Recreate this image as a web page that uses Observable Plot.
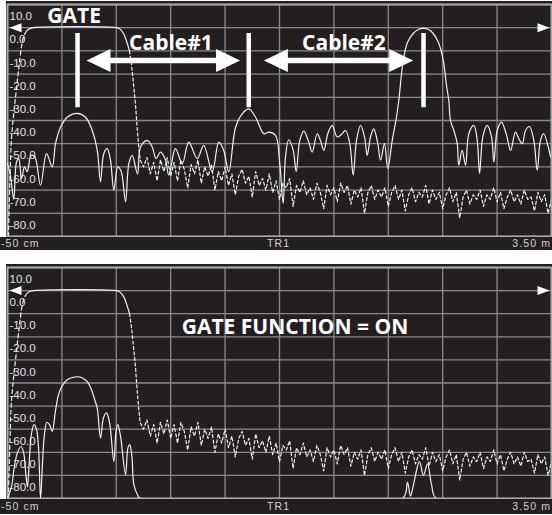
<!DOCTYPE html>
<html><head><meta charset="utf-8">
<script src="https://cdn.jsdelivr.net/npm/d3@7"></script>
<script src="https://cdn.jsdelivr.net/npm/@observablehq/plot@0.6"></script>
<style>
body{margin:0;background:#fff;width:552px;height:515px;position:relative;overflow:hidden}
.panel{position:absolute;left:6px;width:546px;background:#231f20}
.panel svg{display:block}
.footer{position:absolute;left:0;width:552px;background:#231f20;color:#d2d2d2;font:10.5px "Liberation Sans",Arial,sans-serif;letter-spacing:1.1px}
.footer span{position:absolute;white-space:nowrap}
</style></head>
<body>
<div id="p1" class="panel" style="top:1px"></div>
<div id="f1" class="footer" style="top:237px;height:13px;line-height:13px"></div>
<div id="p2" class="panel" style="top:264px"></div>
<div id="f2" class="footer" style="top:499px;height:15px;line-height:15px"></div>
<script>
// ---- axis ticks / labels ----
const xTicks = [-0.5,-0.1,0.3,0.7,1.1,1.5,1.9,2.3,2.7,3.1,3.5];
const yTicks = [10,0,-10,-20,-30,-40,-50,-60,-70,-80,-90];
const yTickLabels = ["10.0","0.0","-10.0","-20.0","-30.0","-40.0","-50.0","-60.0","-70.0","-80.0"];
const footerLabels = ["-50 cm","TR1","3.50 m"];

// ---- ungated response (top, solid) : distance (m), level (dB) ----
const rawDist = [-0.500,-0.478,-0.454,-0.434,-0.417,-0.397,-0.375,-0.355,-0.326,-0.299,-0.257,-0.213,-0.171,-0.147,-0.110,-0.061,0.013,0.074,0.123,0.160,0.184,0.208,0.233,0.257,0.282,0.311,0.336,0.368,0.392,0.417,0.456,0.478,0.527,0.564,0.593,0.625,0.662,0.686,0.735,0.785,0.833,0.895,0.943,1.005,1.054,1.090,1.127,1.177,1.226,1.274,1.324,1.385,1.421,1.471,1.502,1.527,1.544,1.568,1.601,1.623,1.649,1.679,1.715,1.740,1.777,1.801,1.826,1.855,1.887,1.924,1.956,1.985,2.017,2.042,2.066,2.096,2.125,2.145,2.169,2.193,2.223,2.243,2.272,2.296,2.329,2.360,2.377,2.410,2.441,2.483,2.522,2.557,2.596,2.630,2.669,2.704,2.728,2.745,2.757,2.782,2.807,2.818,2.843,2.868,2.892,2.929,2.954,2.971,2.995,3.027,3.059,3.076,3.101,3.132,3.167,3.199,3.235,3.260,3.285,3.309,3.338,3.370,3.395,3.419,3.443,3.476,3.493];
const rawDb = [-58.6,-64,-74,-58,-56.4,-65,-60,-62,-55,-55.7,-67.9,-54.3,-60,-50,-42.9,-38.6,-36.9,-38.6,-44.3,-52.9,-66.4,-54.3,-52.1,-57,-70,-60,-62,-75,-58.6,-55,-63,-51.4,-48.6,-51.4,-56.4,-53.6,-57,-63.6,-52.1,-58.6,-49.3,-56.4,-50.7,-62.1,-49.3,-52.9,-62.1,-42.9,-37.1,-35,-38.6,-45.7,-45,-46.4,-58.6,-75.7,-55.7,-48.3,-52.9,-62.1,-48.6,-44.6,-49.3,-53.6,-45.7,-48.6,-52.9,-45.7,-42.1,-47.1,-46,-44.3,-50,-63.6,-48.6,-42.1,-47.1,-55,-47.1,-43.6,-50,-57.1,-50,-60.7,-48.6,-38.6,-31.4,-14.1,-6.4,-2.5,-0.8,-0.3,-0.8,-2.5,-6.4,-14.1,-24.9,-31.4,-40,-44.3,-50,-59.3,-52.9,-59.3,-45.7,-42.1,-48.6,-62.9,-47.1,-42.1,-47.1,-57.9,-44.3,-40.7,-45.7,-52.9,-45,-47.9,-50,-44.3,-42.6,-48.6,-61.4,-48.6,-45.7,-51.4,-55.7];

// ---- gated response (bottom, solid) ----
const gatedDist = [-0.500,-0.471,-0.449,-0.426,-0.401,-0.382,-0.364,-0.353,-0.338,-0.324,-0.305,-0.287,-0.272,-0.257,-0.243,-0.228,-0.210,-0.191,-0.171,-0.147,-0.125,-0.096,-0.059,-0.022,0.015,0.051,0.088,0.118,0.140,0.160,0.184,0.206,0.228,0.250,0.282,0.298,0.311,0.331,0.368,0.386,0.399,0.415,0.429,0.456,0.478,2.404,2.441,2.463,2.485,2.529,2.559,2.588,2.618,2.654,3.500];
const gatedDb = [-90,-85,-76,-70,-67.5,-70,-80,-85,-72,-62,-58,-60,-68,-90,-75,-62,-57,-58,-61,-52,-45,-41,-38.5,-37.6,-37.3,-37.8,-39.5,-43,-47,-51,-63.8,-55,-52.9,-57,-73.9,-61,-58,-63,-79.7,-68,-66.7,-72,-84,-88.4,-90,-90,-83,-89,-84,-74,-80,-75,-84,-90,-90];

// ---- gate shape (dashed edges, solid top) ----
const gateRiseDist = [-0.493,-0.482,-0.471,-0.456,-0.441,-0.426,-0.412,-0.397,-0.382,-0.368];
const gateRiseDb = [-90,-65,-48,-38,-30,-22,-15,-8,-4,-2.2];
const gateTopDist = [-0.368,-0.353,-0.331,-0.309,0.301,0.324,0.353,0.382,0.397];
const gateTopDb = [-2.2,-1,-0.3,0,0,-0.5,-2.5,-7,-10];
const gateFallDist = [0.397,0.412,0.426,0.441,0.452,0.463];
const gateFallDb = [-10,-16,-24,-33,-42,-50];

// ---- gate stop-band floor (dashed) ----
const floorDist = [0.475,0.5,0.525,0.55,0.575,0.6,0.625,0.65,0.675,0.7,
0.725,0.75,0.775,0.8,0.825,0.85,0.875,0.9,0.925,0.95,
0.975,1,1.025,1.05,1.075,1.1,1.125,1.15,1.175,1.2,
1.225,1.25,1.275,1.3,1.325,1.35,1.375,1.4,1.425,1.45,
1.475,1.5,1.525,1.55,1.575,1.6,1.625,1.65,1.675,1.7,
1.725,1.75,1.775,1.8,1.825,1.85,1.875,1.9,1.925,1.95,
1.975,2,2.025,2.05,2.075,2.1,2.125,2.15,2.175,2.2,
2.225,2.25,2.275,2.3,2.325,2.35,2.375,2.4,2.425,2.45,
2.475,2.5,2.525,2.55,2.575,2.6,2.625,2.65,2.675,2.7,
2.725,2.75,2.775,2.8,2.825,2.85,2.875,2.9,2.925,2.95,
2.975,3,3.025,3.05,3.075,3.1,3.125,3.15,3.175,3.2,
3.225,3.25,3.275,3.3,3.325,3.35,3.375,3.4,3.425,3.45,
3.475,3.5];
const floorDb = [-57,-60,-56,-63,-58,-66,-57,-62,-56,-64,
-58,-66,-57,-61,-69,-59,-63,-57,-67,-60,
-64,-59,-70,-62,-66,-60,-68,-63,-72,-64,
-61,-67,-64,-73,-62,-68,-65,-70,-63,-71,
-66,-74,-67,-69,-65,-77,-68,-71,-66,-72,
-69,-74,-67,-71,-78,-68,-72,-69,-75,-67,
-71,-68,-76,-70,-73,-69,-80,-71,-68,-74,
-70,-73,-69,-77,-71,-68,-74,-70,-79,-72,
-69,-75,-71,-73,-68,-76,-70,-74,-71,-78,
-72,-69,-75,-71,-82,-73,-70,-76,-72,-74,
-70,-77,-72,-74,-69,-75,-71,-78,-73,-70,
-75,-72,-76,-70,-74,-73,-79,-71,-75,-72,
-80,-74];

// ---- annotations ----
const markerDist = [0.015,1.274,2.559];
const markerSpan = [-2.5,-34.5];
const cableNames = ["Cable#1","Cable#2"];
const cableFrom = [0.081,1.385];
const cableTo = [1.210,2.483];
const cableMid = [0.702,1.974];
const cableLevel = -14.1;
const cableTextLevel = -6.8;
const gateTitle = ["GATE"];
const gateTitlePos = [-0.01, 5];
const gateOnTitle = ["GATE FUNCTION = ON"];
const gateOnPos = [1.614, -16];
const refLevel = 0;

// ---- helpers ----
const pts = (xs, ys) => xs.map((x, i) => ({x, y: ys[i]}));
const BG = "#231f20", TRACE = "#f0f0f0";
const headR = {draw(c){c.moveTo(0,0);c.lineTo(-24,-11.5);c.lineTo(-24,11.5);c.closePath();}};
const headL = {draw(c){c.moveTo(0,0);c.lineTo(24,-11.5);c.lineTo(24,11.5);c.closePath();}};
const refL = {draw(c){c.moveTo(0,0);c.lineTo(12,-4.5);c.lineTo(12,4.5);c.closePath();}};
const refR = {draw(c){c.moveTo(0,0);c.lineTo(-12,-4.5);c.lineTo(-12,4.5);c.closePath();}};

const yLabelData = yTickLabels.map((t, i) => ({v: yTicks[i], t}));
const gateRise = pts(gateRiseDist, gateRiseDb);
const gateTop = pts(gateTopDist, gateTopDb);
const gateFallFloor = pts(gateFallDist, gateFallDb).concat(pts(floorDist, floorDb));

function baseMarks() {
  return [
    Plot.gridX(xTicks, {stroke: "#8a8a8a", strokeOpacity: 1, strokeWidth: 1.3}),
    Plot.gridY(yTicks, {stroke: "#8a8a8a", strokeOpacity: 1, strokeWidth: 1.3}),
    Plot.frame({stroke: "#a8a8a8", strokeWidth: 2}),
    Plot.text(yLabelData, {y: "v", text: "t", frameAnchor: "left", textAnchor: "start", dx: 2, dy: 12,
      fill: "#e2e2e2", fontSize: 11.5, fontFamily: "Liberation Sans, Arial, sans-serif", letterSpacing: 0.3}),
    Plot.line(gateRise, {x: "x", y: "y", stroke: TRACE, strokeWidth: 1.2, strokeDasharray: "4,3", curve: "catmull-rom", clip: true}),
    Plot.line(gateTop, {x: "x", y: "y", stroke: TRACE, strokeWidth: 1.2, curve: "catmull-rom", clip: true}),
    Plot.line(gateFallFloor, {x: "x", y: "y", stroke: TRACE, strokeWidth: 1.2, strokeDasharray: "3,2.5", clip: true}),
    Plot.dot([refLevel], {x: () => -0.5, y: d => d, symbol: refL, fill: "#fff", stroke: "none", dx: 2}),
    Plot.dot([refLevel], {x: () => 3.5, y: d => d, symbol: refR, fill: "#fff", stroke: "none", dx: -2})
  ];
}

function panel(height, marks) {
  return Plot.plot({
    width: 546, height,
    marginTop: 3, marginBottom: 1, marginLeft: 1, marginRight: 1,
    x: {domain: [-0.5, 3.5], axis: null},
    y: {domain: [-90, 10], axis: null},
    style: {background: BG, overflow: "visible"},
    marks: baseMarks().concat(marks)
  });
}

const titleFont = {fontFamily: "Open Sans, sans-serif", fontWeight: "bold", fill: "#fff"};

const topPlot = panel(236, [
  Plot.line(pts(rawDist, rawDb), {x: "x", y: "y", stroke: TRACE, strokeWidth: 1.2, curve: "catmull-rom", clip: true}),
  Plot.ruleX(markerDist, {x: d => d, y1: markerSpan[0], y2: markerSpan[1], stroke: "#fff", strokeWidth: 4.5}),
  Plot.ruleY(cableNames.map((n, i) => i), {y: () => cableLevel, x1: i => cableFrom[i] + 0.1, x2: i => cableTo[i] - 0.1, stroke: "#fff", strokeWidth: 5.5}),
  Plot.dot(cableFrom, {x: d => d, y: () => cableLevel, symbol: headL, fill: "#fff", stroke: "none"}),
  Plot.dot(cableTo, {x: d => d, y: () => cableLevel, symbol: headR, fill: "#fff", stroke: "none"}),
  Plot.text(cableNames, {x: (d, i) => cableMid[i], y: () => cableTextLevel, text: d => d, fontSize: 21, ...titleFont}),
  Plot.text(gateTitle, {x: () => gateTitlePos[0], y: () => gateTitlePos[1], text: d => d, fontSize: 21, ...titleFont})
]);
document.getElementById("p1").appendChild(topPlot);

const bottomPlot = panel(235, [
  Plot.line(pts(gatedDist, gatedDb), {x: "x", y: "y", stroke: TRACE, strokeWidth: 1.2, curve: "catmull-rom", clip: true}),
  Plot.text(gateOnTitle, {x: () => gateOnPos[0], y: () => gateOnPos[1], text: d => d, fontSize: 21, ...titleFont})
]);
document.getElementById("p2").appendChild(bottomPlot);

for (const id of ["f1", "f2"]) {
  const f = document.getElementById(id);
  const [a, b, c] = footerLabels;
  f.innerHTML = `<span style="left:1px">${a}</span><span style="left:267px">${b}</span><span style="right:1px">${c}</span>`;
}
</script>
</body></html>
